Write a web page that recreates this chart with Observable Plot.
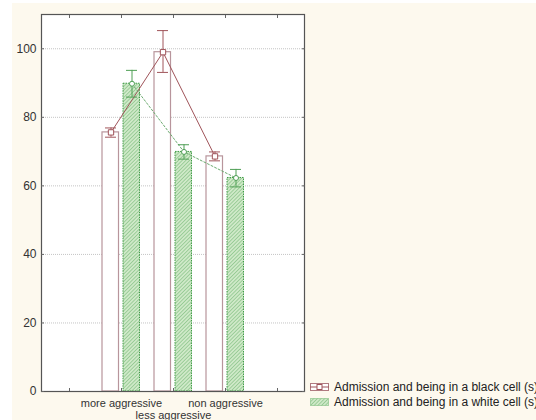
<!DOCTYPE html>
<html>
<head>
<meta charset="utf-8">
<script src="https://cdn.jsdelivr.net/npm/d3@7"></script>
<script src="https://cdn.jsdelivr.net/npm/@observablehq/plot@0.6"></script>
<style>
  html, body { margin: 0; padding: 0; background: #ffffff; }
  #wrap { position: relative; width: 536px; height: 420px; overflow: hidden; background: #ffffff; }
  #cream { position: absolute; left: 12px; top: 3px; right: 0; bottom: 0; background: #fdf9ee; }
  #chart { position: absolute; left: 0; top: 0; }
  #legend { position: absolute; left: 310px; top: 379px; font-family: "Liberation Sans", Arial, sans-serif; font-size: 12px; color: #222; white-space: nowrap; }
  .row { display: flex; align-items: center; height: 15px; }
  .row svg { margin-right: 5px; }
</style>
</head>
<body>
<div id="wrap">
  <div id="cream"></div>
  <div id="chart"></div>
  <div id="legend">
    <div class="row">
      <svg width="19" height="8"><rect x="0.5" y="0.5" width="18" height="7" fill="white" stroke="#b07a80"/><line x1="0" y1="4" x2="19" y2="4" stroke="#a0545a"/><rect x="7" y="1.5" width="5" height="5" fill="white" stroke="#a0545a"/></svg>
      <span>Admission and being in a black cell (s)</span>
    </div>
    <div class="row">
      <svg width="19" height="8"><defs><pattern id="hatchL" width="2.6" height="2.6" patternUnits="userSpaceOnUse" patternTransform="rotate(45)"><rect width="2.6" height="2.6" fill="#cfe9c8"/><line x1="0" y1="0" x2="0" y2="2.6" stroke="#6cb46e" stroke-width="1"/></pattern></defs><rect x="0.5" y="0.5" width="18" height="7" fill="url(#hatchL)" stroke="#6cb46e" stroke-dasharray="1,1"/></svg>
      <span>Admission and being in a white cell (s)</span>
    </div>
  </div>
</div>
<script>
const categories = ["more aggressive", "less aggressive", "non aggressive"];
const xDomain = [" ", "more aggressive", "less aggressive", "non aggressive", "  "];
const yTicks = [0, 20, 40, 60, 80, 100];

const blackMean = [75.6, 99.0, 68.6];
const blackLow  = [74.2, 93.1, 67.3];
const blackHigh = [76.9, 105.3, 69.9];

const whiteMean = [89.8, 69.9, 62.3];
const whiteLow  = [85.9, 67.8, 59.7];
const whiteHigh = [93.7, 72.0, 64.8];

const black = categories.map((c, i) => ({cat: c, mean: blackMean[i], lo: blackLow[i], hi: blackHigh[i]}));
const white = categories.map((c, i) => ({cat: c, mean: whiteMean[i], lo: whiteLow[i], hi: whiteHigh[i]}));

const maroon = "#a0545a";
const mauve = "#b8959c";
const green = "#4f9f55";

const chart = Plot.plot({
  width: 536,
  height: 420,
  marginLeft: 41,
  marginRight: 232,
  marginTop: 14,
  marginBottom: 29,
  style: {background: "transparent", fontFamily: "'Liberation Sans', Arial, sans-serif", fontSize: "11px", color: "#333"},
  x: {domain: xDomain, padding: 0, label: null},
  y: {domain: [0, 110], label: null},
  marks: [
    Plot.frame({fill: "white"}),
    Plot.gridY(yTicks.filter(d => d > 0), {stroke: "#c4c4c4", strokeOpacity: 1, strokeDasharray: "1,1"}),
    Plot.barY(black, {x: "cat", y: "mean", insetLeft: 7, insetRight: 28.5, fill: "white", stroke: mauve, strokeWidth: 1.2}),
    Plot.barY(white, {x: "cat", y: "mean", insetLeft: 28, insetRight: 7.5, fill: "url(#hatch)", stroke: "#3f9b45", strokeDasharray: "1.5,1", strokeWidth: 1}),
    Plot.line(black, {x: "cat", y: "mean", dx: -10.5, stroke: maroon, strokeWidth: 1}),
    Plot.line(white, {x: "cat", y: "mean", dx: 10.5, stroke: "#6aaa6e", strokeWidth: 1, strokeDasharray: "2,2"}),
    Plot.ruleX(black, {x: "cat", y1: "lo", y2: "hi", dx: -10.5, stroke: maroon}),
    Plot.ruleX(white, {x: "cat", y1: "lo", y2: "hi", dx: 10.5, stroke: green}),
    Plot.tickY(black, {x: "cat", y: "lo", insetLeft: 20.5, insetRight: 20.5, dx: -10.5, stroke: maroon}),
    Plot.tickY(black, {x: "cat", y: "hi", insetLeft: 20.5, insetRight: 20.5, dx: -10.5, stroke: maroon}),
    Plot.tickY(white, {x: "cat", y: "lo", insetLeft: 20.5, insetRight: 20.5, dx: 10.5, stroke: green}),
    Plot.tickY(white, {x: "cat", y: "hi", insetLeft: 20.5, insetRight: 20.5, dx: 10.5, stroke: green}),
    Plot.dot(black, {x: "cat", y: "mean", dx: -10.5, symbol: "square", r: 3, fill: "white", stroke: maroon, strokeWidth: 1}),
    Plot.dot(white, {x: "cat", y: "mean", dx: 10.5, r: 2.5, fill: "white", stroke: green, strokeWidth: 1}),
    Plot.frame({stroke: "#555", strokeWidth: 1.2}),
    Plot.axisY(yTicks, {anchor: "left", tickSize: 0, tickPadding: 5, label: null, fill: "#333", fontSize: 12}),
    Plot.axisY(yTicks, {anchor: "left", tickSize: 3, dx: 3, tickFormat: () => "", label: null, stroke: "#666"}),
    Plot.axisY(yTicks, {anchor: "right", tickSize: 3, dx: -3, tickFormat: () => "", label: null, stroke: "#666"}),
    Plot.axisX(["more aggressive", "non aggressive"], {anchor: "bottom", tickSize: 0, tickPadding: 8, label: null, fill: "#333"}),
    Plot.axisX(["less aggressive"], {anchor: "bottom", tickSize: 0, tickPadding: 8, dy: 12, label: null, fill: "#333"}),
    Plot.axisX(xDomain, {anchor: "top", tickSize: 3, dy: 3, tickFormat: () => "", label: null, stroke: "#666"}),
    Plot.axisX(xDomain, {anchor: "bottom", tickSize: 3, dy: -3, tickFormat: () => "", label: null, stroke: "#666"})
  ]
});

const ns = "http://www.w3.org/2000/svg";
const defs = document.createElementNS(ns, "defs");
defs.innerHTML = '<pattern id="hatch" width="2.6" height="2.6" patternUnits="userSpaceOnUse" patternTransform="rotate(45)"><rect width="2.6" height="2.6" fill="#cfe9c8"/><line x1="0" y1="0" x2="0" y2="2.6" stroke="#6cb46e" stroke-width="1"/></pattern>';
chart.insertBefore(defs, chart.firstChild);
document.getElementById("chart").appendChild(chart);
</script>
</body>
</html>
